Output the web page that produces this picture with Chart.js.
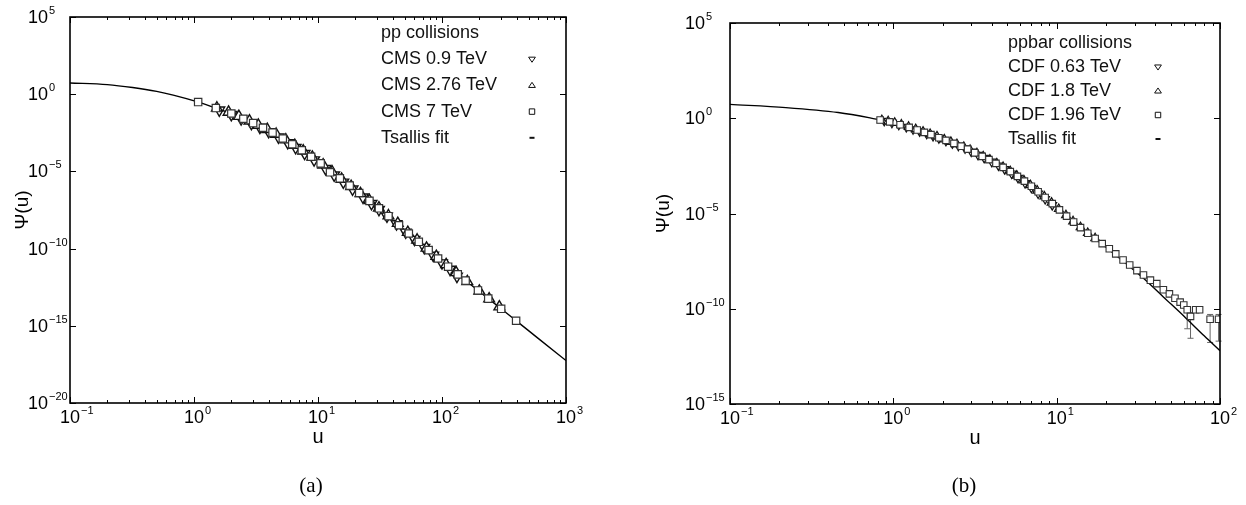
<!DOCTYPE html>
<html>
<head>
<meta charset="utf-8">
<script src="https://cdn.jsdelivr.net/npm/chart.js@4.4.1/dist/chart.umd.min.js"></script>
<style>
  html, body { margin: 0; background: #fff; }
  #wrap { position: relative; width: 1246px; height: 505px; }
  #wrap canvas { position: absolute; top: 0; }
</style>
</head>
<body>
<div id="wrap">
  <canvas id="chartA" width="620" height="505" style="left:0"></canvas>
  <canvas id="chartB" width="626" height="505" style="left:620px"></canvas>
</div>
<script>
// values are log10(Psi), u is linear

// ---- (a) pp collisions ----
const fitA_u   = [0.1, 0.2, 0.32, 0.5, 0.68, 1.07, 1.5, 2, 3, 4, 5, 7, 10, 15, 20, 30, 50, 70, 100, 150, 200, 300, 400, 600, 1000];
const fitA_log = [0.73, 0.62, 0.43, 0.18, -0.06, -0.50, -0.90, -1.25, -1.87, -2.35, -2.78, -3.50, -4.35, -5.45, -6.20, -7.30, -8.80, -9.78, -10.85, -11.98, -12.78, -13.90, -14.70, -15.83, -17.25];

const cms09_u   = [1.6, 2.0, 2.4, 2.9, 3.4, 4.0, 4.8, 5.7, 6.6, 7.8, 9.3, 11.5, 13.5, 16, 19, 23, 27, 31, 36, 43, 51, 60, 72, 85, 100, 116, 132];
const cms09_log = [-1.03, -1.32, -1.60, -1.90, -2.15, -2.43, -2.78, -3.14, -3.46, -3.84, -4.26, -4.82, -5.24, -5.70, -6.15, -6.66, -7.09, -7.47, -7.90, -8.40, -8.94, -9.41, -9.94, -10.44, -10.93, -11.34, -11.80];

const cms276_u   = [1.53, 1.9, 2.3, 2.8, 3.3, 3.9, 4.6, 5.5, 6.5, 7.6, 9.0, 11, 13, 15.5, 18.5, 22, 26, 31, 37, 44, 53, 63, 75, 90, 108, 130, 160, 200, 240, 290];
const cms276_log = [-0.89, -1.16, -1.43, -1.73, -2.00, -2.28, -2.59, -2.95, -3.31, -3.67, -4.07, -4.58, -5.03, -5.50, -5.97, -6.43, -6.88, -7.36, -7.87, -8.36, -8.94, -9.44, -9.96, -10.50, -11.03, -11.55, -12.13, -12.75, -13.25, -13.77];

const cms7_u   = [1.08, 1.5, 2.0, 2.5, 3.0, 3.6, 4.3, 5.2, 6.2, 7.4, 8.8, 10.5, 12.5, 15, 18, 21.5, 26, 31, 37, 45, 54, 65, 78, 93, 112, 134, 155, 195, 236, 300, 396];
const cms7_log = [-0.51, -0.90, -1.25, -1.59, -1.87, -2.17, -2.49, -2.87, -3.24, -3.63, -4.05, -4.48, -5.06, -5.45, -5.92, -6.40, -6.91, -7.39, -7.90, -8.49, -9.02, -9.56, -10.10, -10.64, -11.17, -11.67, -12.07, -12.71, -13.24, -13.90, -14.67];

// ---- (b) ppbar collisions ----
const fitB_u   = [0.1, 0.22, 0.46, 0.72, 0.83, 1.0, 1.4, 2.0, 3.0, 4.0, 5.2, 6.6, 8.3, 10, 12.2, 15, 18, 24.7, 34, 45, 60, 80, 100];
const fitB_log = [0.73, 0.56, 0.30, 0.02, -0.09, -0.24, -0.62, -1.10, -1.72, -2.24, -2.80, -3.40, -4.08, -4.68, -5.33, -5.95, -6.45, -7.40, -8.40, -9.38, -10.38, -11.42, -12.20];

const cdf063_u   = [0.88, 0.98, 1.08, 1.2, 1.32, 1.45, 1.6, 1.75, 1.9, 2.1, 2.3, 2.5, 2.75, 3.0, 3.3, 3.6, 4.0, 4.4, 4.8, 5.3, 5.8, 6.4, 7.0, 7.7, 8.5, 9.4];
const cdf063_log = [-0.14, -0.24, -0.34, -0.46, -0.58, -0.69, -0.81, -0.93, -1.05, -1.19, -1.32, -1.44, -1.58, -1.75, -1.92, -2.08, -2.28, -2.48, -2.67, -2.90, -3.13, -3.40, -3.65, -3.95, -4.24, -4.56];

const cdf18_u   = [0.85, 0.93, 1.02, 1.12, 1.24, 1.37, 1.52, 1.68, 1.85, 2.05, 2.25, 2.45, 2.7, 2.95, 3.25, 3.55, 3.9, 4.3, 4.7, 5.2, 5.7, 6.3, 6.9, 7.6, 8.4, 9.3, 10.3, 11.4, 12.6, 14.0, 15.5, 17.2];
const cdf18_log = [-0.10, -0.16, -0.24, -0.33, -0.45, -0.57, -0.70, -0.83, -0.95, -1.11, -1.24, -1.36, -1.50, -1.66, -1.84, -2.00, -2.17, -2.37, -2.56, -2.78, -3.01, -3.26, -3.51, -3.80, -4.10, -4.43, -4.76, -5.09, -5.41, -5.72, -6.02, -6.30];

const cdf196_u   = [0.83, 0.95, 1.1, 1.25, 1.4, 1.55, 1.7, 1.9, 2.1, 2.35, 2.6, 2.85, 3.15, 3.5, 3.85, 4.25, 4.7, 5.2, 5.75, 6.35, 7.0, 7.7, 8.5, 9.4, 10.4, 11.5, 12.7, 14.0, 15.5, 17.2, 19, 21, 23, 25.5, 28, 31, 34, 37.5, 41, 45, 49, 53, 57, 60, 63, 66, 71, 75, 87, 98];
const cdf196_log = [-0.09, -0.19, -0.34, -0.48, -0.62, -0.74, -0.86, -1.02, -1.16, -1.32, -1.47, -1.62, -1.81, -2.00, -2.17, -2.37, -2.58, -2.80, -3.05, -3.30, -3.57, -3.86, -4.16, -4.48, -4.81, -5.14, -5.45, -5.74, -6.04, -6.31, -6.58, -6.85, -7.12, -7.44, -7.70, -8.00, -8.23, -8.50, -8.68, -9.00, -9.22, -9.45, -9.65, -9.80, -10.05, -10.40, -10.05, -10.05, -10.55, -10.55];

// error bars on the last CDF 1.96 TeV points
const cdf196Err_u     = [63, 66, 87, 98];
const cdf196ErrLo_log = [-11.05, -11.55, -11.77, -11.70];
const cdf196ErrHi_log = [-9.95, -10.20, -10.30, -10.30];

// tick exponents
const xTickExpA = [-1, 0, 1, 2, 3];
const yTickExpA = [5, 0, -5, -10, -15, -20];
const xTickExpB = [-1, 0, 1, 2];
const yTickExpB = [5, 0, -5, -10, -15];

const legendA = ['pp collisions', 'CMS 0.9 TeV', 'CMS 2.76 TeV', 'CMS 7 TeV', 'Tsallis fit'];
const legendB = ['ppbar collisions', 'CDF 0.63 TeV', 'CDF 1.8 TeV', 'CDF 1.96 TeV', 'Tsallis fit'];
const legendMarks = [null, 'down', 'up', 'rect', 'dash'];

const SANS = '"Liberation Sans", Arial, Helvetica, sans-serif';
const SERIF = '"Liberation Serif", "DejaVu Serif", serif';

function toPoints(us, logs) {
  return us.map((u, i) => ({ x: u, y: Math.pow(10, logs[i]) }));
}

function markerSet(label, us, logs, shape, r, bw) {
  return {
    label,
    data: toPoints(us, logs),
    showLine: false,
    pointStyle: shape === 'rect' ? 'rect' : 'triangle',
    pointRotation: shape === 'down' ? 180 : 0,
    pointRadius: r,
    pointHoverRadius: r,
    pointBorderColor: shape === 'rect' ? '#333' : '#111',
    pointBackgroundColor: '#fff',
    pointBorderWidth: bw
  };
}

function fitSet(us, logs) {
  return {
    label: 'Tsallis fit',
    data: toPoints(us, logs),
    showLine: true,
    borderColor: '#000',
    borderWidth: 1.4,
    pointRadius: 0,
    cubicInterpolationMode: 'monotone',
    fill: false
  };
}

function drawMark(ctx, kind, x, y, s) {
  ctx.beginPath();
  if (kind === 'down') {
    ctx.moveTo(x - s, y - s * 0.6); ctx.lineTo(x + s, y - s * 0.6); ctx.lineTo(x, y + s * 0.9); ctx.closePath();
  } else if (kind === 'up') {
    ctx.moveTo(x - s, y + s * 0.6); ctx.lineTo(x + s, y + s * 0.6); ctx.lineTo(x, y - s * 0.9); ctx.closePath();
  } else if (kind === 'rect') {
    ctx.rect(x - s * 0.8, y - s * 0.8, s * 1.6, s * 1.6);
  } else if (kind === 'dash') {
    ctx.moveTo(x - 2.5, y); ctx.lineTo(x + 2.5, y);
    ctx.lineWidth = 2;
  }
  ctx.stroke();
}

function powLabel(ctx, exp, x, baseY, align) {
  const expTxt = exp < 0 ? '\u2212' + Math.abs(exp) : String(exp);
  ctx.font = '18px ' + SANS;
  const w = ctx.measureText('10').width;
  const left = align === 'center' ? x - w / 2 : x;
  ctx.textAlign = 'left';
  ctx.textBaseline = 'alphabetic';
  ctx.fillText('10', left, baseY);
  ctx.font = '11px ' + SANS;
  ctx.fillText(expTxt, left + w + 1, baseY - 9);
}

function panelPlugin(p) {
  return {
    id: 'panel' + p.key,
    beforeDatasetsDraw(chart) {
      if (!p.err) return;
      const { ctx, scales: { x, y } } = chart;
      ctx.save();
      ctx.strokeStyle = '#666';
      ctx.lineWidth = 1;
      p.err.u.forEach((u, i) => {
        const px = x.getPixelForValue(u);
        const lo = y.getPixelForValue(Math.pow(10, p.err.lo[i]));
        const hi = y.getPixelForValue(Math.pow(10, p.err.hi[i]));
        ctx.beginPath();
        ctx.moveTo(px, lo); ctx.lineTo(px, hi);
        ctx.moveTo(px - 3, lo); ctx.lineTo(px + 3, lo);
        ctx.moveTo(px - 3, hi); ctx.lineTo(px + 3, hi);
        ctx.stroke();
      });
      ctx.restore();
    },
    afterDraw(chart) {
      const { ctx, chartArea: a, scales: { x, y } } = chart;
      ctx.save();
      ctx.strokeStyle = '#000';
      ctx.fillStyle = '#000';
      ctx.lineWidth = 1;

      // x ticks, top and bottom, pointing inward
      const xe = p.xExp;
      ctx.beginPath();
      for (let e = xe[0]; e <= xe[xe.length - 1]; e++) {
        for (let m = 1; m < 10; m++) {
          if (e === xe[xe.length - 1] && m > 1) break;
          const px = Math.round(x.getPixelForValue(m * Math.pow(10, e))) + 0.5;
          const len = m === 1 ? 6 : 3;
          ctx.moveTo(px, a.bottom); ctx.lineTo(px, a.bottom - len);
          ctx.moveTo(px, a.top); ctx.lineTo(px, a.top + len);
        }
      }
      // y ticks, left and right
      p.yExp.forEach(e => {
        const py = Math.round(y.getPixelForValue(Math.pow(10, e))) + 0.5;
        ctx.moveTo(a.left, py); ctx.lineTo(a.left + 6, py);
        ctx.moveTo(a.right, py); ctx.lineTo(a.right - 6, py);
      });
      ctx.stroke();

      ctx.lineWidth = 1.6;
      ctx.strokeRect(a.left, a.top, a.right - a.left, a.bottom - a.top);

      // tick labels
      xe.forEach(e => powLabel(ctx, e, x.getPixelForValue(Math.pow(10, e)), a.bottom + 20, 'center'));
      p.yExp.forEach(e => powLabel(ctx, e, p.yLabelLeft, y.getPixelForValue(Math.pow(10, e)) + 6, 'left'));

      // axis titles
      ctx.font = '20px ' + SANS;
      ctx.textAlign = 'center';
      ctx.textBaseline = 'middle';
      ctx.fillText('u', (a.left + a.right) / 2, a.bottom + 34);
      ctx.save();
      ctx.translate(p.yTitleX, (a.top + a.bottom) / 2);
      ctx.rotate(-Math.PI / 2);
      ctx.font = '19px ' + SANS;
      ctx.fillText('\u03A8(u)', 0, 0);
      ctx.restore();

      // legend
      ctx.font = '18px ' + SANS;
      ctx.textAlign = 'left';
      ctx.textBaseline = 'middle';
      p.legend.forEach((txt, i) => {
        const ly = p.legendTop + i * p.legendStep;
        ctx.fillStyle = '#111';
        ctx.fillText(txt, p.legendLeft, ly);
        if (legendMarks[i]) {
          ctx.save();
          ctx.strokeStyle = '#111';
          ctx.lineWidth = 1;
          drawMark(ctx, legendMarks[i], p.legendMarkX, ly, 3.4);
          ctx.restore();
        }
      });

      // caption
      ctx.fillStyle = '#000';
      ctx.font = '21px ' + SERIF;
      ctx.textAlign = 'center';
      ctx.fillText(p.caption, p.captionX, 486);
      ctx.restore();
    }
  };
}

function makeChart(id, datasets, pad, xr, yr, plugin) {
  return new Chart(document.getElementById(id), {
    type: 'scatter',
    data: { datasets },
    options: {
      responsive: false,
      animation: false,
      events: [],
      layout: { padding: pad },
      scales: {
        x: { type: 'logarithmic', min: xr[0], max: xr[1], display: false },
        y: { type: 'logarithmic', min: yr[0], max: yr[1], display: false }
      },
      plugins: { legend: { display: false }, tooltip: { enabled: false } }
    },
    plugins: [plugin]
  });
}

makeChart('chartA', [
    markerSet('CMS 7 TeV', cms7_u, cms7_log, 'rect', 5.2, 1.2),
    markerSet('CMS 2.76 TeV', cms276_u, cms276_log, 'up', 6.2, 1.4),
    markerSet('CMS 0.9 TeV', cms09_u, cms09_log, 'down', 6.2, 1.4),
    fitSet(fitA_u, fitA_log)
  ],
  { left: 70, top: 17, right: 54, bottom: 102 },
  [0.1, 1000], [1e-20, 1e5],
  panelPlugin({
    key: 'A', xExp: xTickExpA, yExp: yTickExpA, yLabelLeft: 28, yTitleX: 23,
    legend: legendA, legendLeft: 381, legendTop: 33, legendStep: 26.2, legendMarkX: 532,
    caption: '(a)', captionX: 311
  })
);

makeChart('chartB', [
    markerSet('CDF 1.96 TeV', cdf196_u, cdf196_log, 'rect', 4.6, 1.1),
    markerSet('CDF 1.8 TeV', cdf18_u, cdf18_log, 'up', 5.0, 1.2),
    markerSet('CDF 0.63 TeV', cdf063_u, cdf063_log, 'down', 5.0, 1.2),
    fitSet(fitB_u, fitB_log)
  ],
  { left: 110, top: 23, right: 26, bottom: 101 },
  [0.1, 100], [1e-15, 1e5],
  panelPlugin({
    key: 'B', xExp: xTickExpB, yExp: yTickExpB, yLabelLeft: 65, yTitleX: 44,
    legend: legendB, legendLeft: 388, legendTop: 43, legendStep: 24, legendMarkX: 538,
    caption: '(b)', captionX: 344,
    err: { u: cdf196Err_u, lo: cdf196ErrLo_log, hi: cdf196ErrHi_log }
  })
);
</script>
</body>
</html>
